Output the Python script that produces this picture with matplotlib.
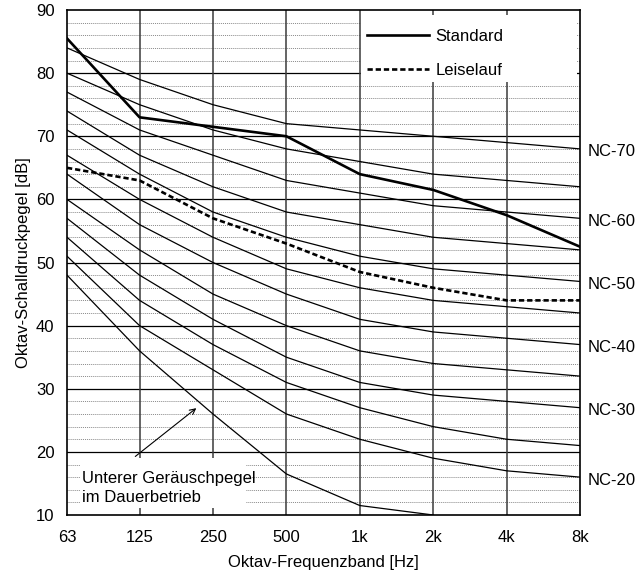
import numpy as np
import matplotlib
matplotlib.use('Agg')
import matplotlib.pyplot as plt
from matplotlib.patches import Rectangle

plt.rcParams['font.family'] = ['Liberation Sans Narrow', 'Liberation Sans', 'DejaVu Sans']
plt.rcParams['font.size'] = 12

# Oktavbaender
freqs = [63, 125, 250, 500, 1000, 2000, 4000, 8000]
freq_labels = ['63', '125', '250', '500', '1k', '2k', '4k', '8k']

# NC-Kurven (dB je Oktavband)
nc_20 = [51, 40, 33, 26, 22, 19, 17, 16]
nc_25 = [54, 44, 37, 31, 27, 24, 22, 21]
nc_30 = [57, 48, 41, 35, 31, 29, 28, 27]
nc_35 = [60, 52, 45, 40, 36, 34, 33, 32]
nc_40 = [64, 56, 50, 45, 41, 39, 38, 37]
nc_45 = [67, 60, 54, 49, 46, 44, 43, 42]
nc_50 = [71, 64, 58, 54, 51, 49, 48, 47]
nc_55 = [74, 67, 62, 58, 56, 54, 53, 52]
nc_60 = [77, 71, 67, 63, 61, 59, 58, 57]
nc_65 = [80, 75, 71, 68, 66, 64, 63, 62]
nc_70 = [84, 79, 75, 72, 71, 70, 69, 68]
nc_curves = [nc_20, nc_25, nc_30, nc_35, nc_40, nc_45, nc_50, nc_55, nc_60, nc_65, nc_70]
nc_labels = ['NC-20', None, 'NC-30', None, 'NC-40', None, 'NC-50', None, 'NC-60', None, 'NC-70']

# Messkurven
standard = [85.5, 73, 71.5, 70, 64, 61.5, 57.5, 52.5]
leiselauf = [65, 63, 57, 53, 48.5, 46, 44, 44]
unterer = [48, 36, 26, 16.5, 11.5, 10]

fig = plt.figure(figsize=(6.4, 5.76), dpi=100)
ax = fig.add_axes([0.1047, 0.1059, 0.8016, 0.8767])
ax.set_xscale('log', base=2)
ax.set_xlim(63, 8000)
ax.set_ylim(10, 90)

# Raster
for y in range(12, 90, 2):
    if y % 10 == 0:
        ax.axhline(y, color='black', lw=0.9, zorder=1)
    else:
        ax.axhline(y, color='#8a8a8a', lw=0.7, ls=(0, (1, 1)), zorder=1)
for f in freqs[1:-1]:
    ax.axvline(f, color='#3a3a3a', lw=1.1, zorder=1)

# weisse Flaechen fuer Legende und Hinweistext
ax.add_patch(Rectangle((0.574, 0.857), 0.42, 0.133, transform=ax.transAxes,
                       facecolor='white', edgecolor='none', zorder=2))
ax.add_patch(Rectangle((0.025, 0.013), 0.324, 0.1, transform=ax.transAxes,
                       facecolor='white', edgecolor='none', zorder=2))

for vals, name in zip(nc_curves, nc_labels):
    ax.plot(freqs, vals, color='black', lw=0.9, zorder=3)
    if name:
        ax.annotate(name, xy=(freqs[-1], vals[-1]), xytext=(8, -3),
                    textcoords='offset pixels', va='center', ha='left',
                    annotation_clip=False)

ax.plot(freqs[:len(unterer)], unterer, color='black', lw=0.9, zorder=3)

l1, = ax.plot(freqs, standard, color='black', lw=1.9, zorder=4, label='Standard')
l2, = ax.plot(freqs, leiselauf, color='black', lw=1.9, ls=(0, (2.0, 1.1)),
              zorder=4, label='Leiselauf')

ax.legend(handles=[l1, l2], loc='upper left', bbox_to_anchor=(0.585, 0.962),
          frameon=False, borderpad=0, borderaxespad=0, handlelength=3.7,
          handletextpad=0.4, labelspacing=1.1)

ax.annotate('', xy=(218, 27.2), xytext=(117.6, 19.0),
            arrowprops=dict(arrowstyle='->', color='black', lw=0.8,
                            mutation_scale=10), zorder=5)
ax.text(72.5, 14.3, 'Unterer Geräuschpegel\nim Dauerbetrieb', ha='left',
        va='center', linespacing=1.3, zorder=5)

ax.set_xticks(freqs)
ax.set_xticklabels(freq_labels)
ax.minorticks_off()
ax.set_yticks(range(10, 91, 10))
ax.tick_params(axis='both', length=0)
ax.tick_params(axis='x', pad=11)
ax.tick_params(axis='y', pad=9)

for s in ax.spines.values():
    s.set_color('black')
    s.set_linewidth(1.2)
    s.set_zorder(6)

ax.set_xlabel('Oktav-Frequenzband [Hz]')
ax.xaxis.set_label_coords(0.5, -0.08)
ax.set_ylabel('Oktav-Schalldruckpegel [dB]')
ax.yaxis.set_label_coords(-0.07, 0.5)

fig.savefig('out.png', dpi=100)
